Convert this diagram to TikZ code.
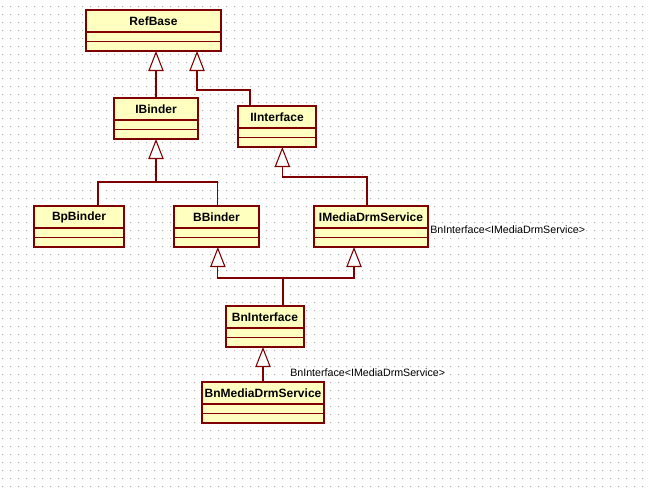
\documentclass[tikz,border=0pt]{standalone}
\usepackage{fontspec}
\setmainfont{Liberation Sans}
\usetikzlibrary{positioning,arrows.meta}
\definecolor{umlred}{RGB}{128,0,0}
\definecolor{umlfill}{RGB}{255,255,192}
\definecolor{griddot}{RGB}{175,175,175}
\tikzset{
    classhead/.style={draw=umlred, fill=umlfill, line width=1.1pt, anchor=north west, outer sep=0pt,
        minimum height=16.5pt, inner sep=0pt, font=\fontsize{9}{10}\selectfont\bfseries},
    classslot/.style={draw=umlred, fill=umlfill, line width=1.1pt, outer sep=0pt, minimum height=7.125pt, inner sep=0pt},
    link/.style={draw=umlred, line width=0.8pt},
    inherit/.style={link, -{Triangle[open, fill=white, length=15pt, width=11.5pt]}},
    stereo/.style={anchor=west, inner sep=0pt, font=\fontsize{8}{9}\selectfont}
}
\newcommand\umlclass[4]{%
    \node[classhead, minimum width=#3*0.75pt] (#1) at (#2) {#4};
    \node[classslot, minimum width=#3*0.75pt, below=0pt of #1] (#1-a) {};
    \node[classslot, minimum width=#3*0.75pt, below=0pt of #1-a] (#1-b) {};
}

\begin{document}
\begin{tikzpicture}[x=0.75pt, y=-0.75pt]
        \useasboundingbox (0,0) rectangle (648,490);
        \fill[white] (0,0) rectangle (648,490);
        \fill[griddot] \foreach \gx in {2,10,...,642} {\foreach \gy in {6,14,...,486} {(\gx,\gy) rectangle ++(1,1)}};

        \umlclass{refbase}{86,10}{135}{RefBase}
        \umlclass{ibinder}{114,98}{84}{IBinder}
        \umlclass{iinterface}{238,106}{78}{IInterface}
        \umlclass{bpbinder}{34,206}{90}{BpBinder}
        \umlclass{bbinder}{174,206}{85}{BBinder}
        \umlclass{imedia}{314,206}{114}{IMediaDrmService}
        \umlclass{bninterface}{226,306}{78}{BnInterface}
        \umlclass{bnmedia}{202,382}{122}{BnMediaDrmService}

        \draw[inherit] (ibinder.north) -- (ibinder.north |- refbase-b.south);
        \draw[inherit] ([xshift=9pt]iinterface.north west) -- ++(0,-16) -| ([xshift=-18pt]refbase-b.south east);

        \coordinate[below=32.25pt of ibinder-b.south] (ibinderjoin);
        \draw[inherit] (ibinderjoin) -- (ibinder-b.south);
        \draw[link] ([xshift=48pt]bpbinder.north west) |- (ibinderjoin) -| ([xshift=1pt]bbinder.north);

        \draw[inherit] ([xshift=-3pt]imedia.north) -- ++(0,-29) -| ([xshift=4pt]iinterface-b.south);

        \draw[link] ([xshift=13.5pt]bninterface.north) -- ++(0,-28) coordinate (bnjoin);
        \draw[inherit] (bnjoin) -| ([xshift=1pt]bbinder-b.south);
        \draw[inherit] (bnjoin) -| ([xshift=-12.75pt]imedia-b.south);

        \draw[inherit] (bnmedia.north) -- (bnmedia.north |- bninterface-b.south);

        \node[stereo] (imedialabel) at ([xshift=1.5pt, yshift=-1.5pt]imedia.south east) {BnInterface<IMediaDrmService>};
        \node[stereo] (bnmedialabel) at ([xshift=20.25pt, yshift=6.75pt]bnmedia.north) {BnInterface<IMediaDrmService>};
\end{tikzpicture}
\end{document}
